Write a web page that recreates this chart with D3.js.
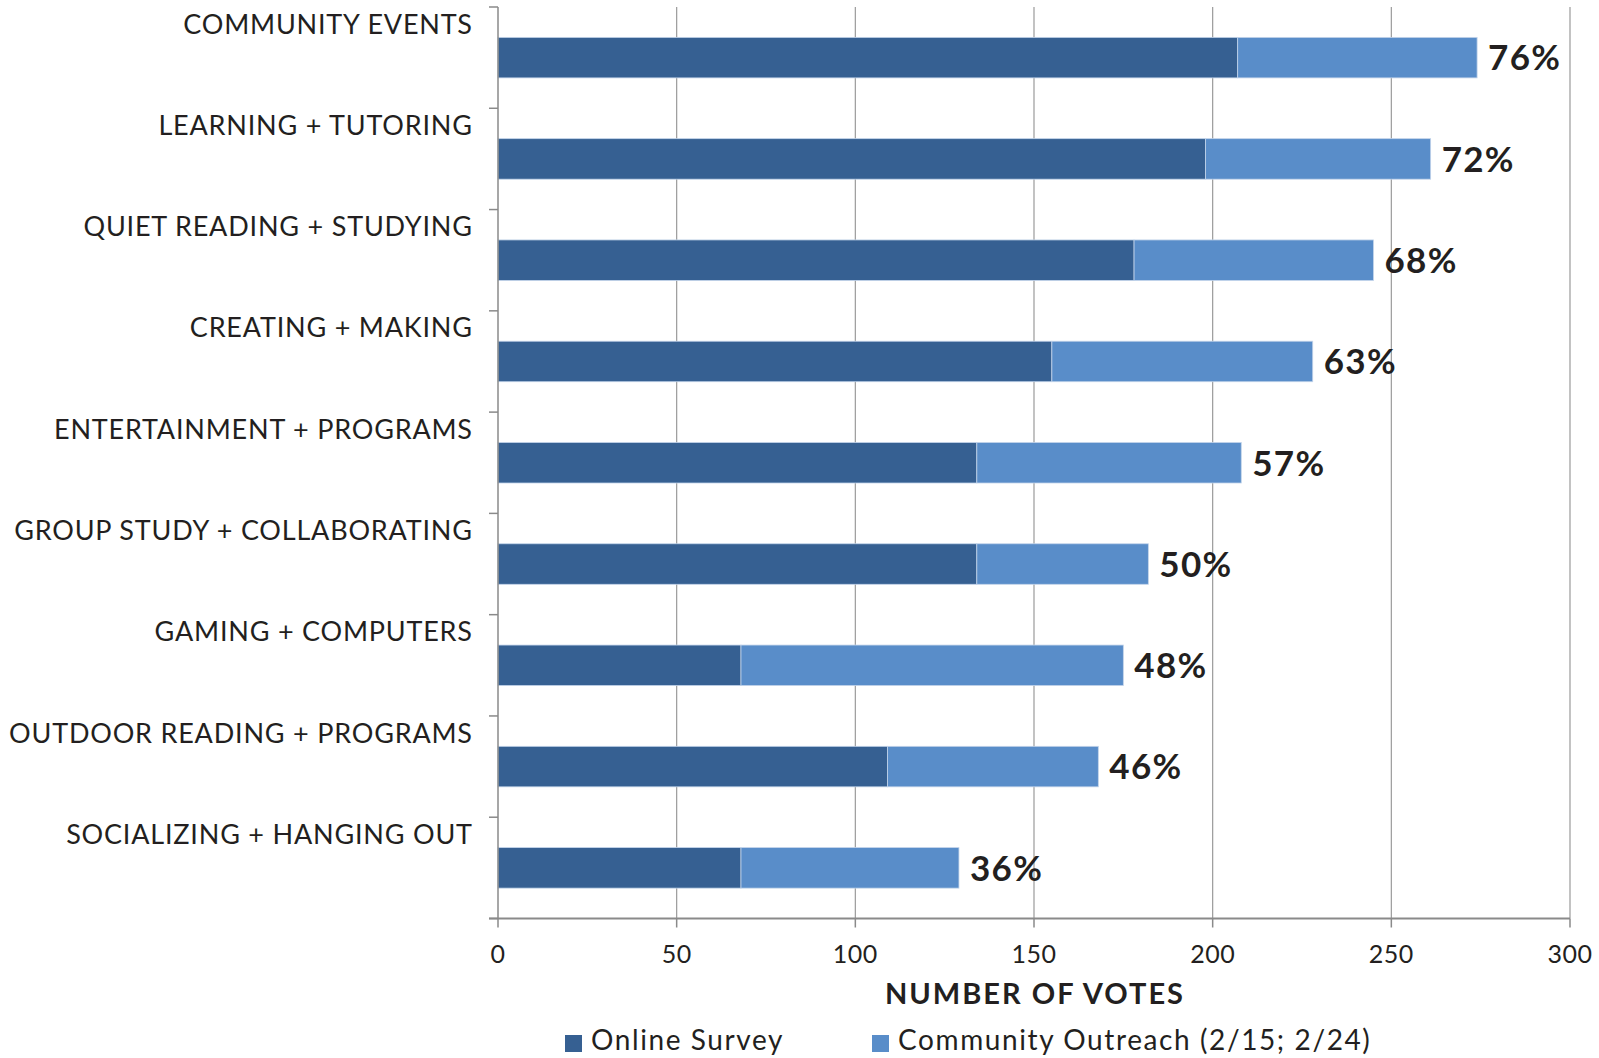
<!DOCTYPE html>
<html>
<head>
<meta charset="utf-8">
<script src="https://cdn.jsdelivr.net/npm/d3@7"></script>
<style>
  html, body { margin: 0; padding: 0; background: #fff; }
  svg { display: block; }
  text { font-family: Lato, "Open Sans", sans-serif; fill: #231f20; }
</style>
</head>
<body>
<svg id="chart" width="1599" height="1058"></svg>
<script>
const categories = [
  "COMMUNITY EVENTS",
  "LEARNING + TUTORING",
  "QUIET READING + STUDYING",
  "CREATING + MAKING",
  "ENTERTAINMENT + PROGRAMS",
  "GROUP STUDY + COLLABORATING",
  "GAMING + COMPUTERS",
  "OUTDOOR READING + PROGRAMS",
  "SOCIALIZING + HANGING OUT"
];
const onlineSurvey       = [207, 198, 178, 155, 134, 134, 68, 109, 68];
const communityOutreach  = [67, 63, 67, 73, 74, 48, 107, 59, 61];
const percentLabels      = ["76%", "72%", "68%", "63%", "57%", "50%", "48%", "46%", "36%"];
const xTicks             = [0, 50, 100, 150, 200, 250, 300];
const seriesNames        = ["Online Survey", "Community Outreach (2/15; 2/24)"];
const seriesKeys         = ["online", "outreach"];
const seriesColors       = ["#366092", "#598dc9"];
const xTitle             = "NUMBER OF VOTES";

const rows = categories.map((c, i) => ({
  cat: c, online: onlineSurvey[i], outreach: communityOutreach[i], pct: percentLabels[i]
}));

const svg = d3.select("#chart");
const x = d3.scaleLinear().domain([0, 300]).range([498, 1570]);
const y = d3.scaleBand().domain(categories).range([7, 918.5]).paddingInner(0).paddingOuter(0);
const bw = y.bandwidth();
const color = d3.scaleOrdinal().domain(seriesKeys).range(seriesColors);

const axisColor = "#8a8a8a";

// gridlines
svg.append("g").selectAll("line").data(xTicks.filter(d => d > 0)).join("line")
  .attr("x1", d => x(d)).attr("x2", d => x(d))
  .attr("y1", y.range()[0]).attr("y2", y.range()[1])
  .attr("stroke", "#9a9a9a").attr("stroke-width", 1.2);

// bars
const stack = d3.stack().keys(seriesKeys)(rows);
svg.append("g").selectAll("g").data(stack).join("g")
  .attr("fill", d => color(d.key))
  .selectAll("rect").data(d => d).join("rect")
  .attr("x", d => x(d[0]))
  .attr("width", d => x(d[1]) - x(d[0]))
  .attr("y", d => y(d.data.cat) + bw * 0.3)
  .attr("height", bw * 0.4)
  .attr("stroke", "#c3d4ea").attr("stroke-width", 0.8);

// y axis line and ticks at band boundaries
svg.append("line")
  .attr("x1", x(0)).attr("x2", x(0))
  .attr("y1", y.range()[0]).attr("y2", y.range()[1])
  .attr("stroke", axisColor).attr("stroke-width", 1.5);
const boundaries = categories.map(c => y(c)).concat([y.range()[1]]);
svg.append("g").selectAll("line").data(boundaries).join("line")
  .attr("x1", x(0) - 9).attr("x2", x(0))
  .attr("y1", d => d).attr("y2", d => d)
  .attr("stroke", axisColor).attr("stroke-width", 1.5);

// x axis line and ticks
svg.append("line")
  .attr("x1", x(0) - 9).attr("x2", x(300))
  .attr("y1", y.range()[1]).attr("y2", y.range()[1])
  .attr("stroke", axisColor).attr("stroke-width", 2);
svg.append("g").selectAll("line").data(xTicks).join("line")
  .attr("x1", d => x(d)).attr("x2", d => x(d))
  .attr("y1", y.range()[1]).attr("y2", y.range()[1] + 9)
  .attr("stroke", axisColor).attr("stroke-width", 1.5);

// x tick labels
svg.append("g").selectAll("text").data(xTicks).join("text")
  .attr("x", d => x(d)).attr("y", 963)
  .attr("text-anchor", "middle")
  .attr("font-size", 25).attr("letter-spacing", 0.5)
  .text(d => d);

// x title
svg.append("text")
  .attr("x", (x(0) + x(300)) / 2 + 1).attr("y", 1004)
  .attr("text-anchor", "middle")
  .attr("font-size", 29).attr("font-weight", 700).attr("letter-spacing", 2)
  .text(xTitle);

// category labels
svg.append("g").selectAll("text").data(categories).join("text")
  .attr("x", 472.8).attr("y", d => y(d) + 26.6)
  .attr("text-anchor", "end")
  .attr("font-size", 27).attr("letter-spacing", 0.8)
  .text(d => d);

// percent labels
svg.append("g").selectAll("text").data(rows).join("text")
  .attr("x", d => x(d.online + d.outreach) + 11)
  .attr("y", d => y(d.cat) + bw / 2 + 12.8)
  .attr("font-size", 35).attr("font-weight", 700).attr("letter-spacing", 1.3)
  .text(d => d.pct);

// legend
const legendX = [565, 872];
const lg = svg.append("g").selectAll("g").data(seriesKeys).join("g")
  .attr("transform", (d, i) => `translate(${legendX[i]},1035)`);
lg.append("rect").attr("width", 17).attr("height", 17).attr("fill", d => color(d));
lg.append("text").attr("x", 26).attr("y", 15).attr("font-size", 28).attr("letter-spacing", 1.6)
  .text((d, i) => seriesNames[i]);
</script>
</body>
</html>
